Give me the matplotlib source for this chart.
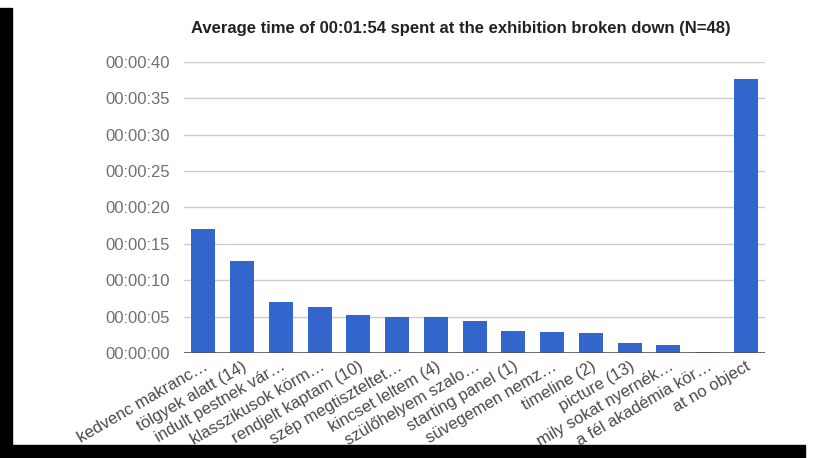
import numpy as np
import matplotlib
matplotlib.use('Agg')
import matplotlib.pyplot as plt
from matplotlib.ticker import FuncFormatter, MultipleLocator
from matplotlib.patches import Rectangle

# data (seconds)
labels = ['kedvenc makranc…', 'tölgyek alatt (14)', 'indult pestnek vár…',
          'klasszikusok körm…', 'rendjelt kaptam (10)', 'szép megtiszteltet…',
          'kincset leltem (4)', 'szülőhelyem szalo…', 'starting panel (1)',
          'süvegemen nemz…', 'timeline (2)', 'picture (13)',
          'mily sokat nyernék…', 'a fél akadémia kör…', 'at no object']
seconds = [17.1, 12.7, 7.0, 6.35, 5.3, 4.9, 4.9, 4.4, 3.05, 2.9, 2.75,
           1.4, 1.05, 0.15, 37.7]
title = 'Average time of 00:01:54 spent at the exhibition broken down (N=48)'

plt.rcParams['font.family'] = ['Liberation Sans', 'DejaVu Sans']


def hms(v, pos):
    v = int(round(v))
    return '%02d:%02d:%02d' % (v // 3600, (v // 60) % 60, v % 60)


fig = plt.figure(figsize=(8.14, 4.58), dpi=100)
ax = fig.add_axes([0.226, 0.229, 0.714, 0.636])

x = np.arange(len(labels))
ax.bar(x, seconds, width=0.62, color='#3366cc', zorder=3)

ax.set_xlim(-0.5, len(labels) - 0.5)
ax.set_ylim(0, 40)
ax.yaxis.set_major_locator(MultipleLocator(5))
ax.yaxis.set_major_formatter(FuncFormatter(hms))
ax.grid(axis='y', color='#cccccc', linewidth=1, zorder=0)
ax.axhline(0, color='#555555', linewidth=1.2, zorder=4)

for s in ax.spines.values():
    s.set_visible(False)
ax.tick_params(axis='both', length=0, labelsize=12, colors='#707070', pad=10)
ax.tick_params(axis='x', pad=4)
ax.set_xticks(x)
ax.set_xticklabels(labels, rotation=30, ha='right', va='top',
                   rotation_mode='anchor', color='#4a4a4a', fontsize=12)

fig.text(461 / 814, 1 - 28 / 458, title, ha='center', va='center',
         fontsize=12, fontweight='bold', color='#222222')

# black screenshot border on the left and bottom
fig.patches.append(Rectangle((0, 0), 12 / 814, 450 / 458, transform=fig.transFigure,
                             color='black', zorder=10))
fig.patches.append(Rectangle((0, 0), 805 / 814, 13 / 458, transform=fig.transFigure,
                             color='black', zorder=10))

fig.savefig('out.png', dpi=100)
